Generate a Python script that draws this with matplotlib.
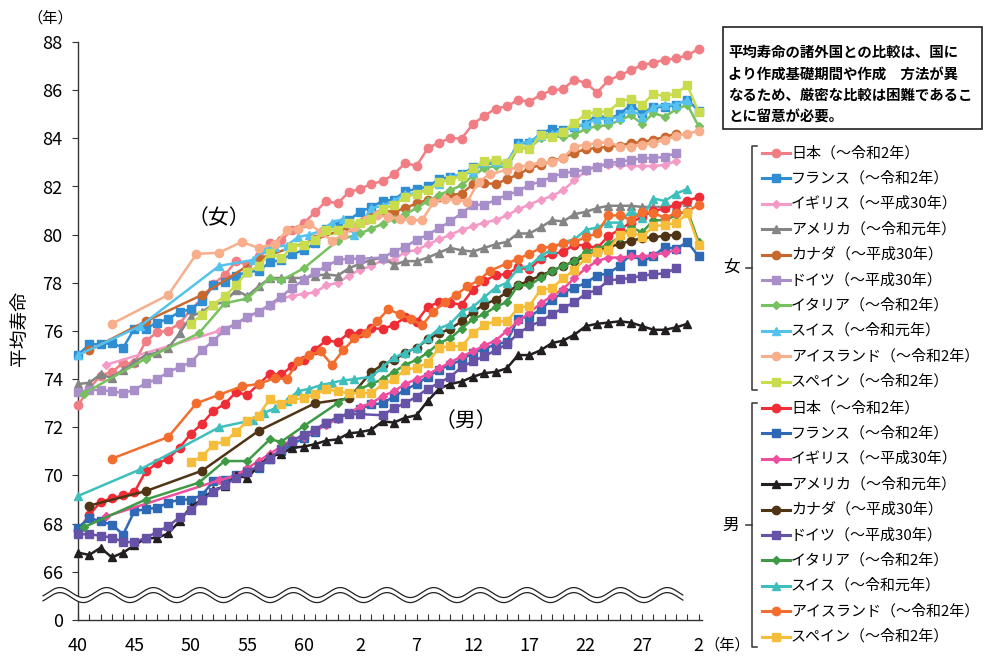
import matplotlib
matplotlib.use("Agg")
import matplotlib.pyplot as plt
import numpy as np
from matplotlib.patches import Rectangle

plt.rcParams["font.family"] = ["Noto Sans CJK JP", "DejaVu Sans"]

# ---- data (years are Western calendar, labels are Japanese era years) ----
x_tick_years = [1965, 1970, 1975, 1980, 1985, 1990, 1995, 2000, 2005, 2010, 2015, 2020]
x_tick_labels = ["40", "45", "50", "55", "60", "2", "7", "12", "17", "22", "27", "2"]
y_tick_values = [64, 66, 68, 70, 72, 74, 76, 78, 80, 82, 84, 86, 88]
y_tick_labels = ["0", "66", "68", "70", "72", "74", "76", "78", "80", "82", "84", "86", "88"]

legend_labels = [
    "日本（～令和2年）", "フランス（～令和2年）", "イギリス（～平成30年）",
    "アメリカ（～令和元年）", "カナダ（～平成30年）", "ドイツ（～平成30年）",
    "イタリア（～令和2年）", "スイス（～令和元年）", "アイスランド（～令和2年）",
    "スペイン（～令和2年）",
]

years_65_20 = list(range(1965, 2021))
years_65_19 = list(range(1965, 2020))
years_75_20 = list(range(1975, 2021))

f_japan = [72.92, 73.61, 74.15, 74.30, 74.67, 74.66, 75.58, 75.94, 76.02, 76.31,
           76.89, 77.35, 77.95, 78.33, 78.89, 78.76, 79.13, 79.66, 79.78, 80.18,
           80.48, 80.93, 81.39, 81.30, 81.77, 81.90, 82.11, 82.22, 82.51, 82.98,
           82.85, 83.59, 83.82, 84.01, 83.99, 84.60, 84.93, 85.23, 85.33, 85.59,
           85.52, 85.81, 85.99, 86.05, 86.44, 86.30, 85.90, 86.41, 86.61, 86.83,
           87.05, 87.14, 87.26, 87.32, 87.45, 87.71]
m_japan = [67.74, 68.35, 68.91, 69.05, 69.18, 69.31, 70.17, 70.50, 70.70, 71.16,
           71.73, 72.15, 72.69, 72.97, 73.46, 73.35, 73.79, 74.22, 74.20, 74.54,
           74.78, 75.23, 75.61, 75.54, 75.91, 75.92, 76.11, 76.09, 76.25, 76.57,
           76.38, 77.01, 77.19, 77.16, 77.10, 77.72, 78.07, 78.32, 78.36, 78.64,
           78.56, 79.00, 79.19, 79.29, 79.59, 79.55, 79.44, 79.94, 80.21, 80.50,
           80.75, 80.98, 81.09, 81.25, 81.41, 81.56]

f_france = [75.0, 75.45, 75.45, 75.5, 75.3, 76.1, 76.1, 76.35, 76.5, 76.8,
            76.9, 77.25, 77.9, 78.05, 78.3, 78.45, 78.5, 78.85, 78.95, 79.2,
            79.35, 79.65, 80.25, 80.45, 80.6, 80.95, 81.15, 81.4, 81.45, 81.8,
            81.9, 82.0, 82.3, 82.4, 82.5, 82.8, 82.9, 83.0, 82.95, 83.8,
            83.8, 84.2, 84.4, 84.35, 84.45, 84.6, 85.0, 84.8, 85.0, 85.4,
            85.05, 85.3, 85.3, 85.4, 85.6, 85.15]
m_france = [67.82, 68.24, 68.1, 67.96, 67.55, 68.52, 68.6, 68.66, 68.87, 69.0,
            69.0, 69.2, 69.76, 69.83, 70.04, 70.18, 70.3, 70.7, 71.0, 71.3,
            71.55, 71.8, 72.2, 72.4, 72.6, 72.75, 72.95, 73.0, 73.28, 73.56,
            73.8, 74.1, 74.4, 74.6, 74.8, 75.1, 75.25, 75.45, 75.55, 76.5,
            76.6, 76.9, 77.3, 77.6, 77.8, 78.0, 78.3, 78.4, 78.7, 79.2,
            78.9, 79.1, 79.5, 79.4, 79.7, 79.1]

uk_years = [1967.5, 1977.5] + list(range(1979, 2019))
f_uk = [74.6, 76.0,
        76.3, 76.55, 76.8, 77.05, 77.35, 77.45, 77.55, 77.6, 77.9, 78.0,
        78.3, 78.55, 78.7, 78.95, 78.95, 79.3, 79.35, 79.6, 79.8, 80.0,
        80.2, 80.35, 80.5, 80.6, 80.8, 81.05, 81.25, 81.45, 81.6, 81.85,
        82.25, 82.65, 82.85, 82.9, 82.9, 82.85, 82.85, 82.85, 82.9, 83.05]
m_uk = [68.3, 69.8,
        70.0, 70.3, 70.6, 70.9, 71.2, 71.5, 71.6, 71.85, 72.1, 72.35,
        72.6, 72.85, 73.0, 73.3, 73.5, 73.8, 74.0, 74.2, 74.45, 74.7,
        74.95, 75.15, 75.4, 75.6, 76.0, 76.4, 76.75, 77.15, 77.45, 77.75,
        78.2, 78.6, 78.9, 79.05, 79.05, 79.1, 79.1, 79.15, 79.25, 79.35]

f_usa = [73.8, 73.85, 74.2, 74.05, 74.4, 74.7, 75.0, 75.1, 75.3, 75.9,
         76.6, 76.8, 77.1, 77.2, 77.7, 77.45, 77.85, 78.2, 78.2, 78.2,
         78.2, 78.3, 78.35, 78.3, 78.6, 78.8, 78.95, 79.05, 78.75, 78.9,
         78.9, 79.05, 79.25, 79.45, 79.35, 79.3, 79.45, 79.6, 79.7, 80.05,
         80.05, 80.3, 80.6, 80.55, 80.85, 80.95, 81.1, 81.2, 81.2, 81.2,
         81.15, 81.15, 81.15, 81.2, 81.35]
m_usa = [66.8, 66.7, 67.0, 66.6, 66.8, 67.1, 67.4, 67.4, 67.6, 68.1,
         68.7, 69.0, 69.4, 69.55, 70.0, 69.9, 70.4, 70.8, 70.9, 71.15,
         71.2, 71.3, 71.45, 71.5, 71.75, 71.8, 71.9, 72.25, 72.2, 72.4,
         72.5, 73.1, 73.6, 73.8, 73.9, 74.1, 74.25, 74.3, 74.45, 75.0,
         75.0, 75.2, 75.5, 75.6, 75.85, 76.2, 76.3, 76.35, 76.4, 76.35,
         76.2, 76.05, 76.05, 76.15, 76.3]

canada_years = [1966, 1971, 1976, 1981, 1986, 1989] + list(range(1991, 2019))
f_canada = [75.2, 76.4, 77.5, 79.0, 79.8, 80.3,
            80.9, 81.0, 80.95, 81.1, 81.3, 81.45, 81.55, 81.65, 81.7, 82.1,
            82.15, 82.1, 82.3, 82.5, 82.75, 82.9, 83.05, 83.2, 83.4, 83.55,
            83.6, 83.65, 83.7, 83.8, 83.85, 83.95, 84.05, 84.2]
m_canada = [68.75, 69.35, 70.2, 71.85, 73.0, 73.2,
            74.3, 74.6, 74.8, 75.1, 75.3, 75.65, 75.9, 76.1, 76.4, 76.8,
            77.1, 77.3, 77.6, 77.9, 78.1, 78.3, 78.5, 78.7, 78.9, 79.1,
            79.3, 79.5, 79.6, 79.75, 79.85, 79.9, 79.95, 80.0]

germany_years = list(range(1965, 1991)) + list(range(1992, 2019))
f_germany = [73.45, 73.55, 73.55, 73.5, 73.42, 73.56, 73.83, 74.0, 74.3, 74.5,
             74.7, 75.2, 75.6, 76.05, 76.3, 76.6, 76.8, 77.1, 77.43, 77.8,
             78.12, 78.45, 78.68, 78.95, 79.0, 79.0,
             79.05, 79.3, 79.5, 79.78, 80.0, 80.27, 80.55, 80.9, 81.24, 81.24,
             81.44, 81.65, 81.8, 82.07, 82.2, 82.4, 82.55, 82.62, 82.69, 82.83,
             82.97, 83.03, 83.1, 83.17, 83.17, 83.24, 83.38]
m_germany = [67.56, 67.56, 67.5, 67.42, 67.25, 67.22, 67.42, 67.65, 67.9, 68.26,
             68.55, 69.0, 69.3, 69.6, 69.9, 70.15, 70.4, 70.7, 71.1, 71.45,
             71.7, 71.9, 72.2, 72.4, 72.55, 72.55,
             72.5, 72.8, 73.0, 73.28, 73.6, 73.85, 74.1, 74.5, 74.75, 74.95,
             75.2, 75.45, 75.9, 76.2, 76.4, 76.7, 76.95, 77.2, 77.55, 77.7,
             78.1, 78.15, 78.2, 78.3, 78.35, 78.4, 78.6]

italy_years = [1965.5, 1971, 1975.7, 1978, 1980, 1982, 1983, 1985, 1988] + list(range(1990, 2021))
f_italy = [73.4, 74.85, 75.9, 77.15, 77.35, 78.2, 78.1, 78.6, 79.75,
           80.05, 80.25, 80.45, 80.65, 80.85, 81.1, 81.4, 81.65, 81.85, 82.05,
           82.45, 82.75, 82.85, 82.8, 83.6, 83.6, 84.0, 84.1, 84.05, 84.15,
           84.4, 84.5, 84.55, 84.75, 84.95, 84.6, 85.05, 84.9, 85.2, 85.4, 84.5]
m_italy = [67.85, 69.0, 69.7, 70.6, 70.6, 71.5, 71.4, 72.05, 73.0,
           73.6, 73.8, 74.0, 74.3, 74.6, 74.8, 75.1, 75.5, 75.7, 76.1,
           76.5, 76.7, 77.0, 77.2, 77.9, 77.9, 78.2, 78.5, 78.7, 78.9,
           79.3, 79.4, 79.6, 79.9, 80.3, 80.1, 80.6, 80.6, 80.8, 81.0, 79.7]

swiss_years = [1965, 1970.5, 1977.5, 1980.5, 1981.5, 1982.5, 1983.5, 1984.5,
               1985.5, 1986.5, 1987.5, 1988.5, 1989.5] + list(range(1991, 2020))
f_swiss = [75.0, 76.2, 78.7, 78.95, 79.4, 79.5, 79.55, 79.9, 80.0, 80.15, 80.5, 80.65, 80.0,
           81.1, 81.2, 81.4, 81.7, 81.7, 81.9, 82.1, 82.4, 82.5, 82.6,
           83.0, 83.0, 83.0, 83.75, 83.9, 84.1, 84.2, 84.3, 84.5, 84.6,
           84.8, 84.8, 84.9, 85.2, 84.9, 85.3, 85.4, 85.4, 85.6]
m_swiss = [69.15, 70.25, 72.0, 72.3, 72.6, 72.8, 73.1, 73.5, 73.6, 73.75, 73.85, 73.95, 74.0,
           74.1, 74.5, 74.9, 75.1, 75.3, 75.7, 76.1, 76.3, 76.8, 77.0,
           77.4, 77.8, 78.0, 78.6, 78.7, 79.1, 79.4, 79.7, 79.8, 80.2,
           80.3, 80.5, 80.5, 81.0, 80.7, 81.5, 81.4, 81.7, 81.9]

iceland_years = [1968, 1973, 1975.5, 1977.5, 1979.5, 1981, 1982.5, 1983.5, 1984.5,
                 1985.5, 1986.5, 1987.5, 1988.5, 1989.5, 1990.5, 1991.5, 1992.5,
                 1993.5, 1994.5, 1995.5, 1996.5, 1997.5, 1998.5, 1999.5, 2000.5,
                 2001.5] + list(range(2003, 2021))
f_iceland = [76.3, 77.5, 79.2, 79.25, 79.7, 79.45, 79.6, 80.2, 80.25, 80.45, 80.1,
             79.75, 80.0, 80.3, 80.6, 80.8, 80.75, 80.65, 80.6, 80.6, 81.35, 81.5,
             81.45, 81.37, 82.2, 82.5,
             82.7, 82.8, 82.9, 83.0, 83.0, 83.2, 83.66, 83.73, 83.8, 83.85,
             83.66, 83.66, 83.73, 83.8, 83.93, 84.1, 84.2, 84.3]
m_iceland = [70.7, 71.6, 73.0, 73.35, 73.7, 73.8, 74.05, 74.0, 74.75, 75.0, 75.15,
             74.6, 75.2, 75.7, 75.9, 76.4, 76.9, 76.7, 76.5, 76.25, 76.8, 77.2,
             77.5, 77.85, 78.1, 78.5,
             78.8, 79.0, 79.2, 79.45, 79.5, 79.65, 79.7, 79.9, 80.05, 80.8,
             80.8, 80.6, 80.95, 80.9, 80.7, 80.9, 80.95, 81.25]

f_spain = [76.3, 76.68, 77.1, 77.44, 77.9, 78.47, 78.68, 79.23, 79.02, 79.5,
           79.58, 79.78, 80.2, 80.2, 80.48, 80.5, 80.65, 81.05, 81.25, 81.55,
           81.7, 81.85, 82.2, 82.27, 82.45, 82.75, 83.05, 83.1, 82.97, 83.6,
           83.55, 84.14, 84.07, 84.28, 84.65, 85.0, 85.1, 85.1, 85.52, 85.65,
           85.4, 85.85, 85.75, 85.87, 86.2, 85.1]
m_spain = [70.55, 70.8, 71.28, 71.42, 71.8, 72.26, 72.49, 73.18, 72.95, 73.18,
           73.2, 73.37, 73.58, 73.5, 73.41, 73.43, 73.43, 73.78, 73.99, 74.4,
           74.47, 74.68, 75.3, 75.37, 75.37, 75.91, 76.26, 76.4, 76.4, 76.95,
           77.05, 77.71, 77.78, 78.19, 78.54, 79.02, 79.3, 79.37, 79.99, 80.13,
           79.92, 80.34, 80.41, 80.48, 80.89, 79.58]

# ---- styles ----
markers = ["o", "s", "D", "^", "o", "s", "D", "^", "o", "s"]
marker_sizes = [6, 5.5, 4.2, 6, 6, 5.5, 4.2, 6, 6, 5.5]
female_colors = ["#F07E84", "#2F8DD3", "#F39AC6", "#858585", "#C8682E",
                 "#A98FCA", "#78C160", "#55C2EE", "#F8AE8A", "#C9DC4E"]
male_colors = ["#EE2D36", "#2F68B4", "#EE4E9E", "#231F20", "#4F3415",
               "#6652A7", "#3F9A45", "#3EBFBC", "#F36D2E", "#F6BD3B"]

female_series = [
    (years_65_20, f_japan), (years_65_20, f_france), (uk_years, f_uk),
    (years_65_19, f_usa), (canada_years, f_canada), (germany_years, f_germany),
    (italy_years, f_italy), (swiss_years, f_swiss), (iceland_years, f_iceland),
    (years_75_20, f_spain),
]
male_series = [
    (years_65_20, m_japan), (years_65_20, m_france), (uk_years, m_uk),
    (years_65_19, m_usa), (canada_years, m_canada), (germany_years, m_germany),
    (italy_years, m_italy), (swiss_years, m_swiss), (iceland_years, m_iceland),
    (years_75_20, m_spain),
]

W, H = 983, 657
fig = plt.figure(figsize=(W / 100, H / 100), dpi=100)
ax = fig.add_axes([78 / W, 1 - 620 / H, (702 - 78) / W, (620 - 42) / H])

for series, colors in ((female_series, female_colors), (male_series, male_colors)):
    for (xs, ys), c, m, ms in zip(series, colors, markers, marker_sizes):
        ax.plot(xs, ys, color=c, marker=m, ms=ms, mec=c, mfc=c, lw=1.8,
                clip_on=False, zorder=3)

ax.set_xlim(1965, 2020.3)
ax.set_ylim(64, 88)
ax.set_xticks(x_tick_years)
ax.set_xticklabels(x_tick_labels, fontsize=13)
ax.set_xticks(range(1965, 2021), minor=True)
ax.set_yticks(y_tick_values)
ax.set_yticklabels(y_tick_labels, fontsize=13)
ax.tick_params(axis="x", which="both", direction="in", length=4.5, width=0.8,
               color="#333333", pad=12)
ax.tick_params(axis="y", direction="out", length=4, width=0.8, color="#333333", pad=7)
for side in ("top", "right"):
    ax.spines[side].set_visible(False)
for side in ("left", "bottom"):
    ax.spines[side].set_color("#333333")
    ax.spines[side].set_linewidth(1.0)

# axis break (double wavy line)
wx = np.linspace(1961.9, 2018.6, 800)
wave_top = 65.14 + 0.207 * np.cos(2 * np.pi * (wx - 1963.4) / 4.14)
wave_bot = wave_top - 0.21
ax.fill_between(wx, wave_bot, wave_top, color="white", zorder=5, clip_on=False, lw=0)
ax.plot(wx, wave_top, color="#222222", lw=0.9, zorder=6, clip_on=False)
ax.plot(wx, wave_bot, color="#222222", lw=0.9, zorder=6, clip_on=False)

# overlay in pixel coordinates for texts, legend and note
ov = fig.add_axes([0, 0, 1, 1], zorder=10)
ov.set_xlim(0, W)
ov.set_ylim(H, 0)
ov.axis("off")

ov.text(50, 18, "（年）", fontsize=11, ha="center", va="center")
ov.text(727, 645, "（年）", fontsize=11, ha="center", va="center")
ov.text(19, 328, "平均寿命", fontsize=13.5, rotation=90, ha="center", va="center")
ov.text(219, 218, "（女）", fontsize=15, ha="center", va="center")
ov.text(466, 421, "（男）", fontsize=15, ha="center", va="center")

# note box
ov.add_patch(Rectangle((723, 27), 259, 102, fill=True, fc="white", ec="#222222", lw=1.2))
note_lines = [
    "平均寿命の諸外国との比較は、国に",
    "より作成基礎期間や作成　方法が異",
    "なるため、厳密な比較は困難であるこ",
    "とに留意が必要。",
]
for i, line in enumerate(note_lines):
    ov.text(728, 53 + i * 21.5, line, fontsize=10.4, fontweight="bold",
            ha="left", va="center")

# legend groups
row_step = 25.4
groups = [("女", 153, female_colors, 146, 390, 268), ("男", 408, male_colors, 403, 647, 525)]
for label, y0, colors, top, bot, mid in groups:
    for i, (lab, c, m, ms) in enumerate(zip(legend_labels, colors, markers, marker_sizes)):
        yy = y0 + i * row_step
        ov.plot([762, 790], [yy, yy], color=c, lw=2.2)
        ov.plot([776], [yy], color=c, marker=m, ms=ms, mec=c, mfc=c)
        ov.text(791, yy, lab, fontsize=10.8, ha="left", va="center")
    ov.plot([757, 752, 752, 757], [top, top, bot, bot], color="#333333", lw=1.1)
    ov.plot([746, 752], [mid, mid], color="#333333", lw=1.1)
    ov.text(731, mid, label, fontsize=12, ha="center", va="center")

fig.savefig("out.png", dpi=100)
